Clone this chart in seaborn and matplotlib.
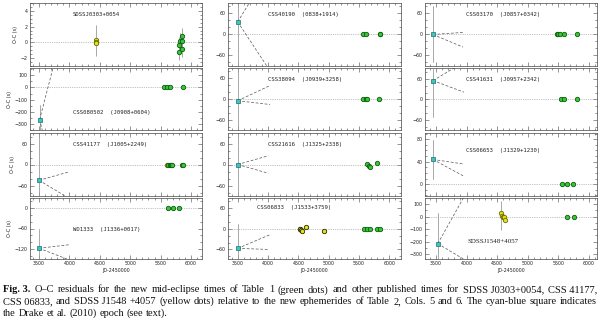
import matplotlib
matplotlib.use("Agg")
import matplotlib.pyplot as plt
import seaborn as sns
from matplotlib.ticker import MultipleLocator

sns.set_style("ticks")
plt.rcParams['font.family'] = ['DejaVu Sans']

# ---------------- data (row-major: 4 rows x 3 columns) ----------------
names = ["SDSSJ0303+0054", "CSS40190  (0838+1914)", "CSS03170  (J0857+0342)",
         "CSS080502  (J0908+0604)", "CSS38094  (J0939+3258)", "CSS41631  (J0957+2342)",
         "CSS41177  (J1005+2249)", "CSS21616  (J1325+2338)", "CSS06653  (J1329+1230)",
         "WD1333  (J1336+0017)", "CSS06833  (J1533+3759)", "SDSSJ1548+4057"]
col_xlims = [(3352, 6181), (3340, 6193), (3320, 6136)]
x_ticks = [3500, 4000, 4500, 5000, 5500, 6000]
ylims = [(-3, 5), (-90, 90), (-90, 90),
         (-350, 160), (-90, 90), (-90, 92),
         (-90, 90), (-90, 90), (-21, 91),
         (-148, 28), (-88, 90), (-337, 147)]
y_ticks = [[-2, 0, 2, 4], [-60, 0, 60], [-60, 0, 60],
           [-300, -200, -100, 0, 100], [-60, 0, 60], [-60, 0, 60],
           [-60, 0, 60], [-60, 0, 60], [0, 40, 80],
           [-120, -60, 0], [-60, 0, 60], [-300, -200, -100, 0, 100]]
y_minor = [0.5, 20, 20, 50, 20, 20, 20, 20, 10, 20, 20, 50]

# Drake et al. (2010) epoch (cyan square) and its error bar
cyan_x = [None, 3500, 3450, 3510, 3500, 3450, 3500, 3500, 3450, 3500, 3500, 3530]
cyan_y = [None, 36, 0, -265, -5, 55, -45, 0, 44, -117, -57, -215]
cyan_lo = [None, -200, -80, -500, -200, -53, -200, -200, 10, -400, -400, -400]
cyan_hi = [None, 200, 82, -145, 200, 88, 200, 200, 78, -60, 13, 25]
# extrapolated ephemeris uncertainty cone (end points of the dashed lines)
cone_up_x = [None, 3690, 3943, 3730, 4033, 3795, 3977, 4005, 3943, 3990, 4033, 3948]
cone_up_y = [None, 90, 6, 160, 39, 92, -22, 25, 36, -107, -17, 147]
cone_lo_x = [None, 3980, 3943, 3554, 4033, 3959, 3930, 4005, 3943, 3960, 4000, 3948]
cone_lo_y = [None, -90, -36, -350, -16, 21, -90, -25, 15, -148, -60, -337]

# new mid-eclipse times (green)
green_x = [[5800, 5810, 5815, 5845, 5850, 5860],
           [5570, 5610, 5845, 5852],
           [5480, 5500, 5530, 5600, 5810],
           [5555, 5600, 5650, 5870],
           [5573, 5610, 5627, 5830],
           [5550, 5600, 5806],
           [5630, 5650, 5670, 5690, 5850, 5870],
           [5640, 5660, 5680, 5800],
           [5568, 5640, 5748],
           [5615, 5700, 5800],
           [5590, 5627, 5680, 5790, 5848],
           [5643, 5752]]
green_y = [[-0.35, -1.25, 0.2, 0.2, 0.85, -0.9],
           [0, 0, 0, 0],
           [0, 0, 0, 0, 0],
           [0, 0, 0, 0],
           [0, 0, 0, 0],
           [0, 0, 0],
           [0, 0, 0, 0, 0, 0],
           [1, -3, -8, 3],
           [0, 0, 0],
           [0, 0, 0],
           [0, 0, 0, 0, 0],
           [0, 0]]
green_err = [[1.0, 1.0, 1.0, 1.0, 1.0, 1.0]] + [None] * 11

# other published times (yellow)
yellow_x = [[4430, 4435, 4440], [], [], [], [], [],
            [5600], [], [], [], [4520, 4535, 4550, 4565, 4630, 4915],
            [4565, 4575, 4600, 4615, 4630]]
yellow_y = [[0.3, 0.1, -0.1], [], [], [], [], [],
            [0], [], [], [], [0, 1, -2, -5, 4, -5],
            [25, 5, 0, -5, -30]]
yellow_err_lo = [-1.7] + [None] * 10 + [-110]
yellow_err_hi = [2.2] + [None] * 10 + [122]

caption = [
    "Fig.~3. O–C residuals for the new mid-eclipse times of Table 1 (green dots) and other published times for SDSS~J0303+0054, CSS~41177,",
    "CSS~06833, and SDSS~J1548 +4057 (yellow dots) relative to the new ephemerides of Table 2, Cols. 5 and 6. The cyan-blue square indicates",
    "the Drake et al. (2010) epoch (see text).",
]

# ---------------- layout ----------------
W, H = 600, 318
fig = plt.figure(figsize=(W / 100, H / 100), dpi=100)
col_px = [(30, 202), (228, 401), (425, 597)]
row_px = [(3, 66), (68, 130), (133, 196), (198, 259)]
label_pos = [(0.25, 0.81), (0.23, 0.81), (0.24, 0.81),
             (0.25, 0.29), (0.23, 0.82), (0.24, 0.82),
             (0.25, 0.825), (0.23, 0.825), (0.24, 0.73),
             (0.25, 0.49), (0.17, 0.84), (0.245, 0.295)]

FRAME = '#444444'
for i in range(12):
    r, c = divmod(i, 3)
    x0, x1 = col_px[c]
    y0, y1 = row_px[r]
    ax = fig.add_axes([x0 / W, 1 - y1 / H, (x1 - x0) / W, (y1 - y0) / H])
    ax.set_xlim(*col_xlims[c])
    ax.set_ylim(*ylims[i])
    ax.axhline(0, color='#8a8a8a', lw=0.5, ls=(0, (1, 1.6)), zorder=1)

    if cyan_x[i] is not None:
        cx, cy = cyan_x[i], cyan_y[i]
        ax.plot([cx, cx], [cyan_lo[i], cyan_hi[i]], color='#9a9a9a', lw=0.6, zorder=2)
        ax.plot([cx, cone_up_x[i]], [cy, cone_up_y[i]], color='#555555', lw=0.5,
                ls=(0, (4, 2.5)), zorder=2)
        ax.plot([cx, cone_lo_x[i]], [cy, cone_lo_y[i]], color='#555555', lw=0.5,
                ls=(0, (4, 2.5)), zorder=2)
        sns.scatterplot(x=[cx], y=[cy], ax=ax, marker='s', s=11, color='#3cc6c0',
                        edgecolor='#1f6f6c', linewidth=0.5, legend=False, zorder=5)

    if yellow_err_lo[i] is not None:
        ax.vlines(yellow_x[i][0], yellow_err_lo[i], yellow_err_hi[i],
                  color='#9a9a9a', lw=0.6, zorder=2)
    if green_err[i] is not None:
        gy = green_y[i]
        ax.vlines(green_x[i], [v - e for v, e in zip(gy, green_err[i])],
                  [v + e for v, e in zip(gy, green_err[i])],
                  color='#9a9a9a', lw=0.6, zorder=2)

    if yellow_x[i]:
        ecol = '#2a2a00' if i == 10 else '#6b6b00'
        sns.scatterplot(x=yellow_x[i], y=yellow_y[i], ax=ax, marker='o', s=10,
                        color='#e3e31c', edgecolor=ecol, linewidth=0.6,
                        legend=False, zorder=4)
    sns.scatterplot(x=green_x[i], y=green_y[i], ax=ax, marker='o', s=10,
                    color='#37c837', edgecolor='#0f5a0f', linewidth=0.6,
                    legend=False, zorder=4)

    fam = 'Liberation Serif' if i == 11 else 'DejaVu Sans Mono'
    fs = 5.0 if i == 11 else 4.1
    ax.text(label_pos[i][0], label_pos[i][1], names[i], transform=ax.transAxes,
            fontsize=fs, family=fam, color='#222222', ha='left', va='center')

    ax.set_xticks(x_ticks)
    ax.xaxis.set_minor_locator(MultipleLocator(100))
    ax.set_yticks(y_ticks[i])
    ax.yaxis.set_minor_locator(MultipleLocator(y_minor[i]))
    ax.tick_params(which='both', direction='in', top=True, right=True,
                   width=0.4, color=FRAME, labelsize=3.4, pad=1.5, labelcolor='#222222')
    ax.tick_params(which='major', length=2.6)
    ax.tick_params(which='minor', length=1.3)
    for sp in ax.spines.values():
        sp.set_linewidth(0.5)
        sp.set_color(FRAME)
    if r == 3:
        ax.set_xlabel("JD-2450000", fontsize=3.4, labelpad=1.5, color='#222222')
    else:
        ax.set_xticklabels([])
    if c == 0:
        ax.set_ylabel("O-C (s)", fontsize=3.6, labelpad=2, color='#222222')

# ---------------- justified caption ----------------
fig.canvas.draw()
renderer = fig.canvas.get_renderer()
cap_left, cap_right = 3, 597
cap_y = [290, 301.5, 313]
CFS = 7.5


def make(tok, x, y, bold):
    return fig.text(x / W, 1 - y / H, tok, fontsize=CFS, family='Liberation Serif',
                    fontweight='bold' if bold else 'normal', ha='left', va='center',
                    color='#111111')


sp = make("a a", 0, 0, False)
sp2 = make("aa", 0, 0, False)
space_w = sp.get_window_extent(renderer).width - sp2.get_window_extent(renderer).width
sp.remove()
sp2.remove()

for li, line in enumerate(caption):
    toks = [t.replace('~', ' ') for t in line.split(' ')]
    texts = []
    widths = []
    for ti, tok in enumerate(toks):
        t = make(tok, 0, cap_y[li], li == 0 and ti == 0)
        texts.append(t)
        widths.append(t.get_window_extent(renderer).width)
    if li < len(caption) - 1:
        gap = (cap_right - cap_left - sum(widths)) / (len(toks) - 1)
    else:
        gap = space_w
    x = cap_left
    for t, w in zip(texts, widths):
        t.set_x(x / W)
        x += w + gap

fig.savefig("out.png", dpi=100)
